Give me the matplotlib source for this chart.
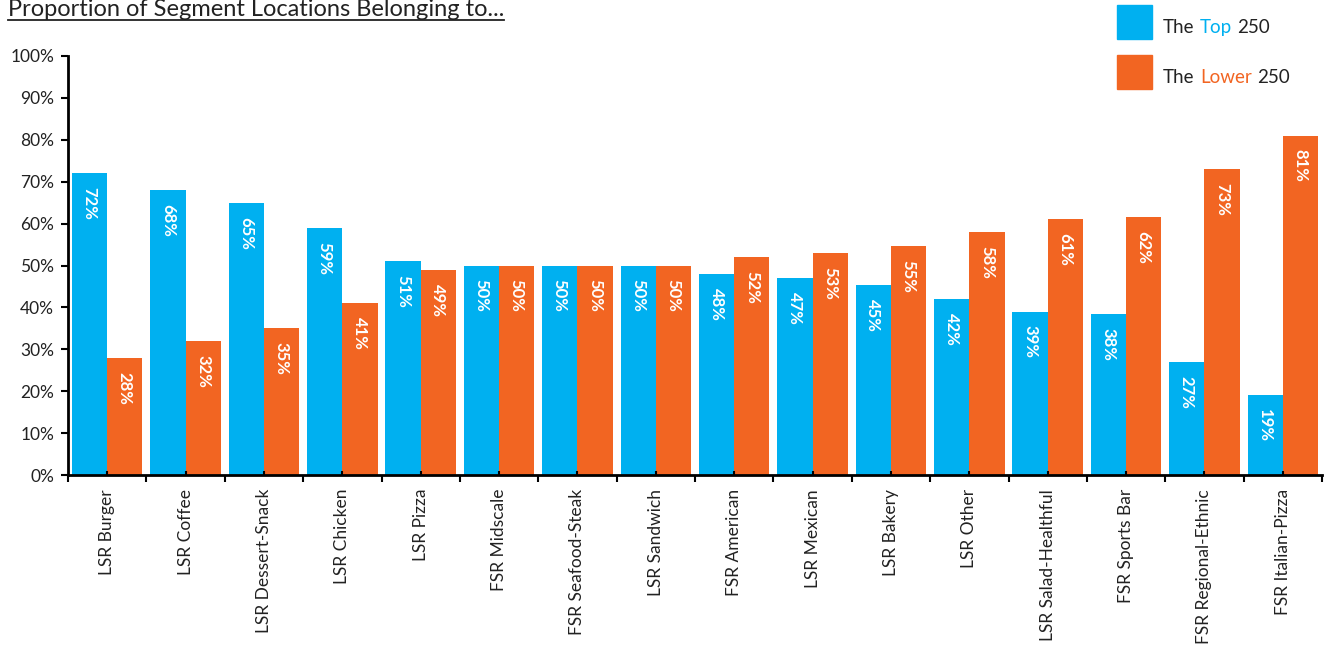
import numpy as np
import matplotlib
matplotlib.use('Agg')
import matplotlib.pyplot as plt
from matplotlib.ticker import FixedLocator, PercentFormatter
from matplotlib.lines import Line2D
from matplotlib.patches import Rectangle
from matplotlib.text import Annotation

plt.rcParams['font.family'] = ['Lato', 'DejaVu Sans']

segments = ['LSR Burger', 'LSR Coffee', 'LSR Dessert-Snack', 'LSR Chicken',
            'LSR Pizza', 'FSR Midscale', 'FSR Seafood-Steak', 'LSR Sandwich',
            'FSR American', 'LSR Mexican', 'LSR Bakery', 'LSR Other',
            'LSR Salad-Healthful', 'FSR Sports Bar', 'FSR Regional-Ethnic',
            'FSR Italian-Pizza']
top250 = [72, 68, 65, 59, 51, 50, 50, 50, 48, 47, 45.4, 42, 39, 38.4, 27, 19]
lower250 = [28, 32, 35, 41, 49, 50, 50, 50, 52, 53, 54.6, 58, 61, 61.6, 73, 81]

BLUE = '#00B0F0'
ORANGE = '#F26522'
TXT = '#222222'

fig = plt.figure(figsize=(13.3, 6.46), dpi=100)
ax = fig.add_axes([68 / 1330, 1 - 475 / 646, (1322 - 68) / 1330, (475 - 56) / 646])

x = np.arange(len(segments))
w = 0.45
b1 = ax.bar(x - w / 2, top250, w, color=BLUE)
b2 = ax.bar(x + w / 2, lower250, w, color=ORANGE)

for bars, vals in ((b1, top250), (b2, lower250)):
    for r, v in zip(bars, vals):
        ax.annotate('%d%%' % round(v), (r.get_x() + r.get_width() / 2, r.get_height()),
                    xytext=(0, -10), textcoords='offset points',
                    rotation=-90, ha='center', va='top',
                    color='white', fontsize=12, fontweight='bold')

ax.set_xlim(-0.5, len(segments) - 0.5)
ax.set_ylim(0, 100)
ax.yaxis.set_major_locator(FixedLocator(np.arange(0, 101, 10)))
ax.yaxis.set_major_formatter(PercentFormatter(decimals=0))
ax.set_xticks(x)
ax.set_xticklabels(segments, rotation=90, fontsize=12.5, color=TXT)
ax.xaxis.set_minor_locator(FixedLocator(np.arange(-0.5, len(segments), 1.0)))
ax.tick_params(axis='x', which='major', direction='in', length=3, width=1.5, pad=10)
ax.tick_params(axis='x', which='minor', direction='out', length=5, width=1.5)
ax.tick_params(axis='y', direction='out', length=5, width=1.5, labelsize=12.5,
               pad=5, labelcolor=TXT)

for s in ('top', 'right'):
    ax.spines[s].set_visible(False)
for s in ('left', 'bottom'):
    ax.spines[s].set_linewidth(2)
    ax.spines[s].set_color('black')

# title with underline
title = fig.text(8 / 1330, 1 - 16 / 646, 'Proportion of Segment Locations Belonging to...',
                 fontsize=17, color=TXT, ha='left', va='baseline')

# legend with coloured words
for i, (col, word) in enumerate(((BLUE, 'Top'), (ORANGE, 'Lower'))):
    y0 = 1 - (39 + i * 50) / 646
    fig.patches.append(Rectangle((1117 / 1330, y0), 35 / 1330, 34 / 646,
                                 transform=fig.transFigure, color=col))
    t1 = fig.text(1163 / 1330, 1 - (33 + i * 50) / 646, 'The', fontsize=13.5,
                  color=TXT, ha='left', va='baseline')
    a2 = fig.add_artist(Annotation(word, xy=(1, 0), xycoords=t1,
                                   xytext=(3.8, 0), textcoords='offset points',
                                   fontsize=13.5, color=col, ha='left', va='bottom'))
    fig.add_artist(Annotation('250', xy=(1, 0), xycoords=a2,
                              xytext=(3.8, 0), textcoords='offset points',
                              fontsize=13.5, color=TXT, ha='left', va='bottom'))

fig.canvas.draw()
bb = title.get_window_extent().transformed(fig.transFigure.inverted())
uy = 1 - 20 / 646
fig.add_artist(Line2D([bb.x0, bb.x1], [uy, uy], transform=fig.transFigure,
                      color=TXT, lw=1.3))

fig.savefig('out.png', dpi=100)
